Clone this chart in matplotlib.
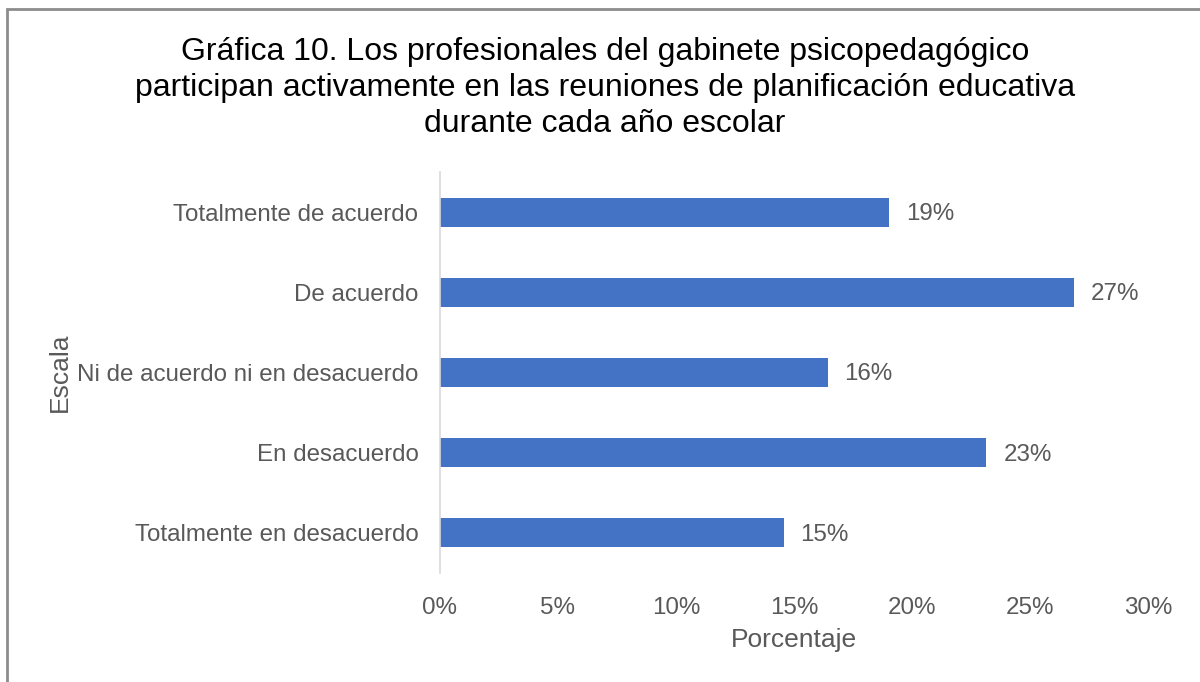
import matplotlib
matplotlib.use("Agg")
import matplotlib.pyplot as plt
from matplotlib.patches import Rectangle

categories = ["Totalmente de acuerdo", "De acuerdo", "Ni de acuerdo ni en desacuerdo",
              "En desacuerdo", "Totalmente en desacuerdo"]
values = [19.04, 26.87, 16.42, 23.15, 14.56]
xticks = [0, 5, 10, 15, 20, 25, 30]
xtick_labels = ["0%", "5%", "10%", "15%", "20%", "25%", "30%"]
title = ("Gráfica 10. Los profesionales del gabinete psicopedagógico\n"
         "participan activamente en las reuniones de planificación educativa\n"
         "durante cada año escolar")

plt.rcParams['font.family'] = ['Liberation Sans', 'DejaVu Sans']
W, H = 1200, 682
fig = plt.figure(figsize=(W / 100, H / 100), dpi=100)
ax = fig.add_axes([440 / W, 1 - 573 / H, (1148 - 440) / W, (573 - 172) / H])

gray = "#595959"
bar_color = "#4472C4"
ypos = list(range(len(categories)))
ax.barh(ypos, values, height=0.36, color=bar_color)
ax.set_ylim(len(categories) - 0.5, -0.5)
ax.set_xlim(0, 30)
ax.set_yticks(ypos)
ax.set_yticklabels(categories, fontsize=17.4, color=gray)
ax.set_xticks(xticks)
ax.set_xticklabels(xtick_labels, fontsize=17.4, color=gray)
ax.tick_params(axis='both', length=0)
ax.tick_params(axis='y', pad=15.5)
ax.tick_params(axis='x', pad=17)
for s in ["top", "right", "bottom"]:
    ax.spines[s].set_visible(False)
ax.spines["left"].set_color("#d9d9d9")
ax.spines["left"].set_linewidth(1.2)

for y, v in zip(ypos, values):
    ax.annotate(f"{round(v):d}%", xy=(v, y), xytext=(17, -2), textcoords="offset pixels",
                va="center", ha="left", fontsize=17.4, color=gray)

ax.set_xlabel("Porcentaje", fontsize=19, color=gray, labelpad=6.5)
fig.text(60 / W, 1 - 372 / H, "Escala", rotation=90, fontsize=19, color=gray,
         ha="center", va="center")

fig.text(605 / W, 1 - 37 / H, title, ha="center", va="top", fontsize=23,
         color="#000000", linespacing=1.27)

fig.patches.append(Rectangle((7 / W, -0.1), 1.2, (H - 9) / H + 0.1, transform=fig.transFigure,
                             fill=False, edgecolor="#8c8c8c", linewidth=2))

fig.savefig("out.png", dpi=100)
